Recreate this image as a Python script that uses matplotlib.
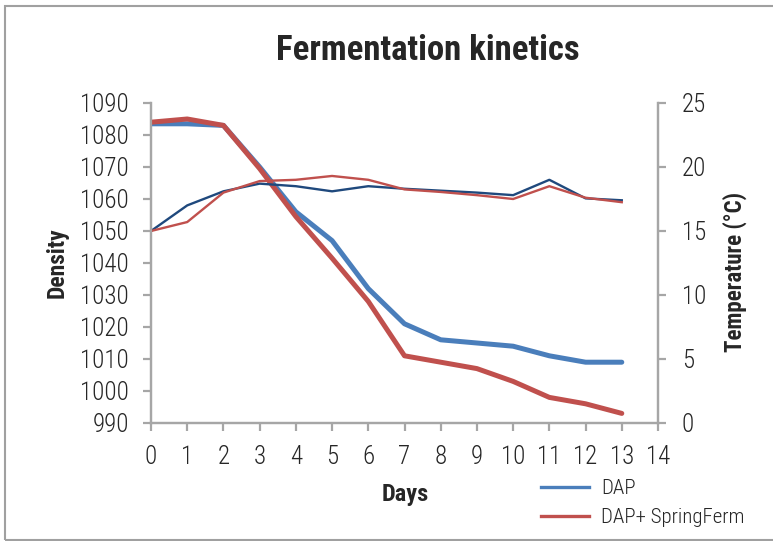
import matplotlib
matplotlib.use("Agg")
import matplotlib.pyplot as plt
from matplotlib.lines import Line2D
from matplotlib.patches import Rectangle

# narrow grotesque, close to the Arial Narrow look of the original
plt.rcParams['font.family'] = ['Roboto Condensed', 'Liberation Sans', 'DejaVu Sans']

days = list(range(14))
density_dap = [1083.5, 1083.5, 1083, 1070, 1056, 1047, 1032, 1021, 1016, 1015, 1014, 1011, 1009, 1009]
density_spring = [1084, 1085, 1083, 1069.5, 1054.5, 1041.5, 1028, 1011, 1009, 1007, 1003, 998, 996, 993]
temp_dap = [15, 17.0, 18.1, 18.7, 18.5, 18.1, 18.5, 18.3, 18.15, 18.0, 17.8, 19.0, 17.55, 17.4]
temp_spring = [15, 15.7, 18.0, 18.9, 19.0, 19.3, 19.0, 18.25, 18.05, 17.8, 17.5, 18.5, 17.6, 17.25]
series_names = ["DAP", "DAP+ SpringFerm"]

BLUE = "#4A7EBB"
RED = "#C0504D"
NAVY = "#1F497D"
GRAY = "#A6A6A6"
TXT = "#262626"

W, H = 773, 541
fig = plt.figure(figsize=(W / 100, H / 100), dpi=100)
fig.patches.append(Rectangle((5 / W, 1 / H), 2.0, 534 / H, transform=fig.transFigure,
                             fill=False, edgecolor="#A0A0A0", linewidth=1.5))

ax = fig.add_axes([151 / W, 1 - 423 / H, 507 / W, 320 / H])
ax2 = ax.twinx()

ax.plot(days, density_dap, color=BLUE, lw=3.6, solid_capstyle='round', zorder=3)
ax.plot(days, density_spring, color=RED, lw=3.6, solid_capstyle='round', zorder=4)
ax2.plot(days, temp_dap, color=NAVY, lw=1.7)
ax2.plot(days, temp_spring, color=RED, lw=1.7)

ax.set_xlim(0, 14)
ax.set_ylim(990, 1090)
ax2.set_ylim(0, 25)
ax.set_xticks(range(15))
ax.set_yticks(range(990, 1091, 10))
ax2.set_yticks(range(0, 26, 5))

for a in (ax, ax2):
    for s in a.spines.values():
        s.set_color(GRAY)
        s.set_linewidth(1.6)
    a.spines['top'].set_visible(False)
    a.tick_params(colors=GRAY, labelcolor=TXT, labelsize=18, width=1.6, length=6, direction='out')
ax.tick_params(axis='x', pad=10)
ax.tick_params(axis='y', pad=10)
ax2.tick_params(axis='y', pad=11)
for lab in ax.get_xticklabels() + ax.get_yticklabels() + ax2.get_yticklabels():
    lab.set_fontweight(300)

fig.text(57 / W, 1 - 263 / H, "Density", rotation=90, ha='center', va='center',
         fontsize=17, fontweight='bold', color=TXT)
fig.text(735 / W, 1 - 272 / H, "Temperature (°C)", rotation=90, ha='center', va='center',
         fontsize=16.5, fontweight='bold', color=TXT)
fig.text(405 / W, 1 - 494 / H, "Days", ha='center', va='center',
         fontsize=17.5, fontweight='bold', color=TXT)

fig.text(428 / W, 1 - 51 / H, "Fermentation kinetics", ha='center', va='center',
         fontsize=25, fontweight='bold', color=TXT)

handles = [Line2D([], [], color=BLUE, lw=2.4), Line2D([], [], color=RED, lw=2.4)]
leg = fig.legend(handles, series_names, loc='upper left',
                 bbox_to_anchor=(541 / W, 1 - 479 / H), frameon=False, borderpad=0,
                 borderaxespad=0, fontsize=15, handlelength=2.3, handletextpad=0.6,
                 labelspacing=0.5, labelcolor=TXT)
for t in leg.get_texts():
    t.set_fontweight(300)

fig.savefig("out.png", dpi=100)
